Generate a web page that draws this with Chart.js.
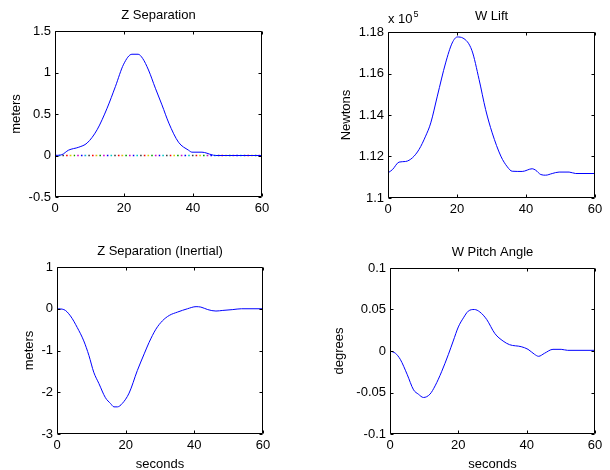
<!DOCTYPE html>
<html><head><meta charset="utf-8">
<script src="https://cdn.jsdelivr.net/npm/chart.js@4/dist/chart.umd.min.js"></script>
<style>
html,body{margin:0;padding:0;background:#fff;overflow:hidden;width:610px;height:470px;}
canvas{position:absolute;}
</style></head><body>
<canvas id="c1"></canvas>
<canvas id="c2"></canvas>
<canvas id="c3"></canvas>
<canvas id="c4"></canvas>
<script>
// ---- data (seconds / values) ----
const timeTicks = [0, 20, 40, 60];

const zSepTime   = [0, 2, 3.9, 6.9, 9.3, 12.2, 15.1, 17.5, 19.9, 22.3, 24.1, 25.4, 27.1, 29.1, 31, 33, 35.8, 38.7, 39.7, 42.6, 45.5, 46.5, 60];
const zSepValues = [0, 0.01, 0.064, 0.10, 0.15, 0.31, 0.57, 0.83, 1.10, 1.22, 1.22, 1.17, 1.03, 0.81, 0.61, 0.39, 0.16, 0.064, 0.04, 0.04, 0.008, 0, 0];
const zSepTicks  = [-0.5, 0, 0.5, 1, 1.5];
const zeroRefTime   = [0, 60];
const zeroRefValues = [0, 0];

const wLiftTime   = [0, 1.3, 3.2, 5.1, 7.1, 9, 10.9, 12.4, 14.3, 16.7, 18.6, 20.1, 21.7, 24.3, 26.4, 28.3, 30.2, 32.7, 34.6, 36, 38.9, 41.8, 42.8, 44.3, 45.7, 47.6, 49.6, 52.5, 54.4, 60];
const wLiftValues = [1.1121, 1.1137, 1.1173, 1.1176, 1.1194, 1.1234, 1.1298, 1.1362, 1.1491, 1.1651, 1.1747, 1.1776, 1.1771, 1.1712, 1.1571, 1.1426, 1.1314, 1.1202, 1.1150, 1.1129, 1.1128, 1.1141, 1.1134, 1.1113, 1.1110, 1.1118, 1.1125, 1.1125, 1.1118, 1.1118];
const wLiftTicks  = [1.1, 1.12, 1.14, 1.16, 1.18];

const zInertTime   = [0, 2, 3.9, 5.9, 7.8, 9.3, 10.7, 12.2, 14.1, 15.6, 16.6, 17.6, 19, 21, 23.4, 25.4, 26.8, 28.8, 30.7, 32.7, 35.1, 38, 40.5, 41.9, 43.9, 46.3, 48.3, 51.2, 53.7, 60];
const zInertValues = [0, -0.02, -0.17, -0.45, -0.77, -1.12, -1.52, -1.79, -2.13, -2.27, -2.35, -2.35, -2.27, -2.02, -1.48, -1.08, -0.81, -0.49, -0.29, -0.16, -0.08, 0, 0.05, 0.04, -0.02, -0.055, -0.04, -0.02, 0, 0];
const zInertTicks  = [-3, -2, -1, 0, 1];

const wPitchTime   = [0, 1.6, 3, 5, 6.9, 8.3, 9.8, 11.7, 13.2, 15.1, 17.1, 18.5, 20, 21.5, 22.9, 24.7, 26.3, 28.3, 30.7, 33.1, 35, 38.4, 40.4, 42.3, 43.5, 45.2, 47.7, 50.1, 52, 60];
const wPitchValues = [0, -0.0028, -0.01, -0.028, -0.0468, -0.052, -0.056, -0.052, -0.042, -0.025, -0.004, 0.012, 0.029, 0.04, 0.048, 0.05, 0.047, 0.038, 0.021, 0.012, 0.0076, 0.0052, 0.002, -0.004, -0.0064, -0.0028, 0.002, 0.002, 0.0008, 0.0008];
const wPitchTicks  = [-0.1, -0.05, 0, 0.05, 0.1];

// ---- styling ----
const FONT = "Arial, 'Liberation Sans', sans-serif";
const dotColors = ['#0000ff', '#00a000', '#ff0000', '#00c8c8', '#d000d0', '#d0d000', '#404040'];

function pts(xs, ys) { return xs.map((x, i) => ({x: x, y: ys[i]})); }

const matlabPlugin = {
  id: 'matlab',
  afterDatasetsDraw(chart, args, opts) {
    const {ctx, chartArea: a, scales: {x, y}} = chart;
    ctx.save();
    ctx.strokeStyle = '#000';
    ctx.lineWidth = 1;
    const l = Math.round(a.left) + 0.5, r = Math.round(a.right) - 0.5;
    const t = Math.round(a.top) + 0.5, b = Math.round(a.bottom) - 0.5;
    ctx.beginPath();
    ctx.rect(l, t, r - l, b - t);
    const TL = 3;
    x.ticks.forEach(tk => {
      const px = Math.round(x.getPixelForValue(tk.value)) + 0.5;
      ctx.moveTo(px, b); ctx.lineTo(px, b - TL);
      ctx.moveTo(px, t); ctx.lineTo(px, t + TL);
    });
    y.ticks.forEach(tk => {
      const py = Math.round(y.getPixelForValue(tk.value)) + 0.5;
      ctx.moveTo(l, py); ctx.lineTo(l + TL, py);
      ctx.moveTo(r, py); ctx.lineTo(r - TL, py);
    });
    ctx.stroke();
    // title
    ctx.fillStyle = '#000';
    ctx.font = '13px ' + FONT;
    ctx.textAlign = 'center';
    ctx.textBaseline = 'alphabetic';
    ctx.fillText(opts.title, (a.left + a.right) / 2, a.top - 12);
    if (opts.exponent) {
      ctx.textAlign = 'left';
      ctx.font = '13px ' + FONT;
      ctx.fillText('x 10', a.left, a.top - 9);
      const w = ctx.measureText('x 10').width;
      ctx.font = '9px ' + FONT;
      ctx.fillText(opts.exponent, a.left + w + 1, a.top - 15);
    }
    ctx.restore();
  }
};

function makeChart(id, g, datasets, yTicks, yTitle, yTitlePad, xTitle, title, exponent) {
  const cv = document.getElementById(id);
  const W = g.L + g.w + g.R, H = g.T + g.h + g.B;
  cv.width = W; cv.height = H;
  cv.style.left = g.cx + 'px'; cv.style.top = g.cy + 'px';
  cv.style.width = W + 'px'; cv.style.height = H + 'px';
  return new Chart(cv, {
    type: 'line',
    data: { datasets: datasets },
    plugins: [matlabPlugin],
    options: {
      responsive: false,
      animation: false,
      devicePixelRatio: 1,
      layout: { padding: { top: g.T, right: g.R, left: 0, bottom: 0 } },
      plugins: {
        legend: { display: false },
        tooltip: { enabled: false },
        title: { display: false },
        matlab: { title: title, exponent: exponent }
      },
      elements: { point: { radius: 0 } },
      scales: {
        x: {
          type: 'linear', min: 0, max: 60,
          grid: { display: false, drawTicks: false }, border: { display: false },
          afterBuildTicks: s => { s.ticks = timeTicks.map(v => ({value: v})); },
          afterFit: s => { s.height = g.B; },
          ticks: { color: '#000', font: { family: FONT, size: 13 }, padding: 4, maxRotation: 0,
                   callback: v => String(v) },
          title: { display: !!xTitle, text: xTitle || '', color: '#000',
                   font: { family: FONT, size: 13 }, padding: { top: 0, bottom: 0 } }
        },
        y: {
          type: 'linear', min: yTicks[0], max: yTicks[yTicks.length - 1],
          grid: { display: false, drawTicks: false }, border: { display: false },
          afterBuildTicks: s => { s.ticks = yTicks.map(v => ({value: v})); },
          afterFit: s => { s.width = g.L; },
          ticks: { color: '#000', font: { family: FONT, size: 13 }, padding: 4,
                   callback: v => String(Math.round(v * 10000) / 10000) },
          title: { display: true, text: yTitle, color: '#000',
                   font: { family: FONT, size: 13 }, padding: { top: yTitlePad, bottom: 0 } }
        }
      }
    }
  });
}

function blueLine(xs, ys) {
  return { data: pts(xs, ys), borderColor: '#0000ff', borderWidth: 1,
           cubicInterpolationMode: 'monotone', fill: false };
}

const dottedZero = {
  data: pts(zeroRefTime, zeroRefValues),
  borderWidth: 1.5,
  borderDash: [1.6, 2.1],
  fill: false,
  borderColor: ctx => {
    const c = ctx.chart, a = c.chartArea;
    if (!a) return '#000';
    const gr = c.ctx.createLinearGradient(a.left, 0, a.right, 0);
    const period = 3.7, width = a.right - a.left;
    const n = Math.ceil(width / period);
    for (let k = 0; k < n; k++) {
      const col = dotColors[(k * 3) % dotColors.length];
      const s = Math.min(1, (k * period) / width), e = Math.min(1, ((k + 1) * period) / width);
      gr.addColorStop(s, col); gr.addColorStop(e, col);
    }
    return gr;
  }
};

makeChart('c1', {cx: 0, cy: 0, L: 55, T: 31, w: 207, h: 166, R: 20, B: 30},
  [blueLine(zSepTime, zSepValues), dottedZero], zSepTicks, 'meters', 8.6, null, 'Z Separation');

makeChart('c2', {cx: 305, cy: 0, L: 83, T: 32, w: 207, h: 166, R: 15, B: 30},
  [blueLine(wLiftTime, wLiftValues)], wLiftTicks, 'Newtons', 33.6, null, 'W Lift', '5');

makeChart('c3', {cx: 0, cy: 235, L: 57, T: 32, w: 206, h: 167, R: 20, B: 38},
  [blueLine(zInertTime, zInertValues)], zInertTicks, 'meters', 21.2, 'seconds', 'Z Separation (Inertial)');

makeChart('c4', {cx: 305, cy: 235, L: 85, T: 33, w: 205, h: 166, R: 15, B: 38},
  [blueLine(wPitchTime, wPitchValues)], wPitchTicks, 'degrees', 26.9, 'seconds', 'W Pitch Angle');
</script>
</body></html>
